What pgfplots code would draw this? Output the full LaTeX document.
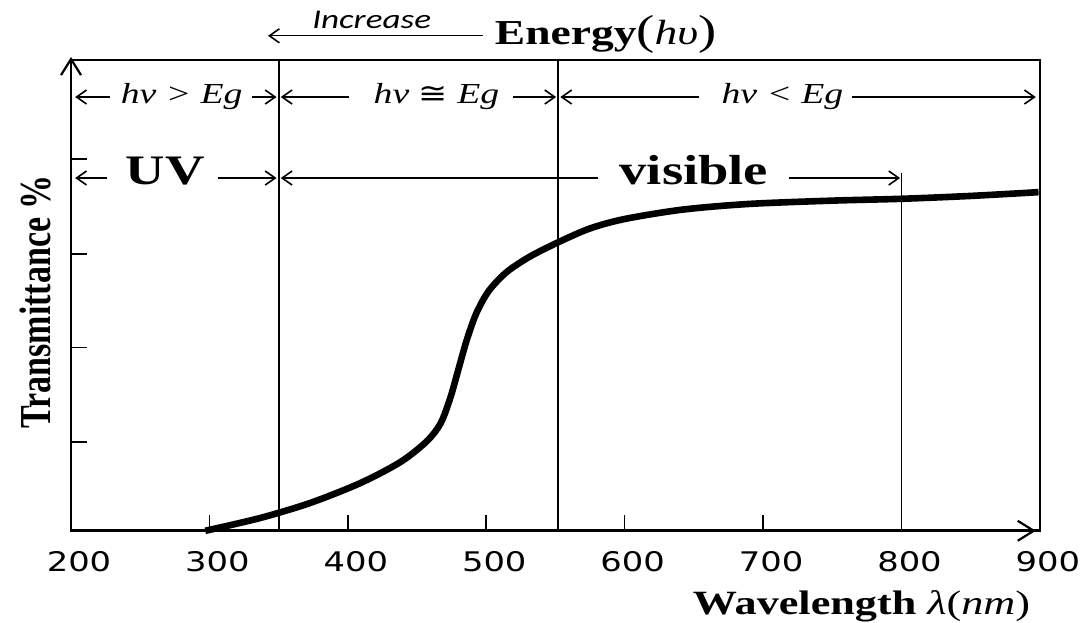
\documentclass[border=0pt]{standalone}
\usepackage{fontspec}
\usepackage{pgfplots}
\pgfplotsset{compat=1.18}
\usetikzlibrary{arrows.meta}
\setmainfont{Liberation Serif}[FakeStretch=1.3]
\newfontfamily\plainserif{Liberation Serif}
\newfontfamily\tickfont{DejaVu Sans}[FakeStretch=1.25]
\newfontfamily\incfont{Carlito}[FakeStretch=1.3]
\newfontfamily\symfont{DejaVu Sans}[FakeStretch=1.2]

\tikzset{
  darr/.style={-{Straight Barb[length=5pt,width=7pt,line width=0.8pt]}, line width=0.7pt},
  hvtxt/.style={anchor=base, font=\fontsize{14.5}{15}\selectfont\itshape, inner sep=0pt},
  bigtxt/.style={anchor=base, font=\fontsize{21}{22}\selectfont\bfseries, inner sep=0pt},
}

\begin{document}
\begin{tikzpicture}
\begin{axis}[
    scale only axis, width=484.5pt, height=235.5pt,
    xmin=200, xmax=900, ymin=0, ymax=100,
    xtick={200,300,...,900}, ytick={18.9,38.9,58.8,79},
    yticklabels={},
    xtick pos=left, ytick pos=left,
    tick align=inside, major tick length=8pt,
    axis line style={line width=1.3pt},
    tick style={line width=0.8pt, black},
    /pgf/number format/assume math mode=true,
    xticklabel style={font=\fontsize{13.5}{14}\selectfont\tickfont, xshift=4pt, yshift=-7pt},
    clip=false,
]
% transmittance curve
\addplot[line width=3.3pt, smooth] coordinates {
  (297,0) (336.5,2.7) (372.7,5.9) (408.8,10.1) (438,14.6) (457,19.0)
  (467,22.8) (474,28.2) (480,34.4) (486,40.6) (493,46.3) (502,51.0)
  (515,55.0) (532,58.3) (553,61.4) (575,64.2) (600,66.2) (642,68.2)
  (690,69.4) (750,70.1) (801,70.5) (850,71.1) (899,71.9)};

% region boundaries
\draw[line width=0.9pt] (axis cs:350,0) -- (axis cs:350,100);
\draw[line width=0.9pt] (axis cs:552,0) -- (axis cs:552,100);
\draw[line width=0.9pt] (axis cs:800,0) -- (axis cs:800,76);

% axis arrows
\draw[-{Straight Barb[length=8pt,width=10pt,line width=1.1pt]}, line width=1.3pt] (axis cs:870,0) -- (axis cs:897,0);
\draw[-{Straight Barb[length=8pt,width=10pt,line width=1.1pt]}, line width=1.3pt] (axis cs:200,90) -- (axis cs:200,100.6);

% photon energy row
\draw[darr] (axis cs:228,92.1) -- (axis cs:203,92.1);
\node[hvtxt] at (axis cs:280,90.7) {hv > Eg};
\draw[darr] (axis cs:331,92.1) -- (axis cs:348.5,92.1);
\draw[darr] (axis cs:401,92.1) -- (axis cs:351.5,92.1);
\node[hvtxt] at (axis cs:464,90.7) {hv {\upshape\symfont ≅} Eg};
\draw[darr] (axis cs:519,92.1) -- (axis cs:550.5,92.1);
\draw[darr] (axis cs:654,92.1) -- (axis cs:553.5,92.1);
\node[hvtxt] at (axis cs:714,90.7) {hv < Eg};
\draw[darr] (axis cs:764,92.1) -- (axis cs:897,92.1);

% spectral region row
\draw[darr] (axis cs:226,74.9) -- (axis cs:203,74.9);
\node[bigtxt] at (axis cs:268,73.6) {UV};
\draw[darr] (axis cs:306,74.9) -- (axis cs:348.5,74.9);
\draw[darr] (axis cs:581,74.9) -- (axis cs:351.5,74.9);
\node[bigtxt] at (axis cs:650,73.6) {visible};
\draw[darr] (axis cs:719,74.9) -- (axis cs:799,74.9);

% energy direction
\draw[darr] (axis cs:497.6,105.1) -- (axis cs:342.3,105.1);
\node[anchor=base west, inner sep=0pt, font=\fontsize{13.5}{14}\selectfont\incfont\itshape] at (axis cs:374,106.6) {Increase};
\node[anchor=base west, inner sep=0pt, font=\fontsize{17.5}{18}\selectfont] at (axis cs:506,103.2)
  {\textbf{Energy}{\fontsize{21}{22}\selectfont(}\textit{hυ}{\fontsize{21}{22}\selectfont)}};

% axis titles
\node[anchor=base west, inner sep=0pt, font=\fontsize{17}{18}\selectfont] at (axis cs:649,-17.8)
  {\textbf{Wavelength} \textit{λ}(\textit{nm})};
\node[rotate=90, inner sep=0pt, font=\fontsize{17}{18}\selectfont\plainserif\bfseries] at (axis cs:174,48.6)
  {\scalebox{1}[1.3]{Transmittance \%}};

\coordinate (bbsw) at (axis cs:148.7,-19.5);
\coordinate (bbne) at (axis cs:934,112.7);
\end{axis}
\pgfresetboundingbox
\path[use as bounding box] (bbsw) rectangle (bbne);
\end{tikzpicture}
\end{document}
